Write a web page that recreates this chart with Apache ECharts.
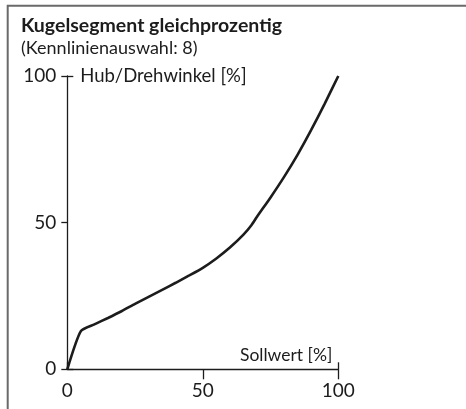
<!DOCTYPE html>
<html>
<head>
<meta charset="utf-8">
<script src="https://cdn.jsdelivr.net/npm/echarts@6/dist/echarts.min.js"></script>
<style>
  html, body { margin: 0; padding: 0; background: #fff; }
  #chart { width: 466px; height: 409px; }
</style>
</head>
<body>
<div id="chart"></div>
<script>
// Sollwert (setpoint) in % and resulting Hub/Drehwinkel (travel/angle) in %
const sollwert = [0, 5, 10, 15, 20, 25, 30, 35, 40, 45, 50, 55, 60, 65, 68, 70, 75, 80, 85, 90, 95, 100];
const hub      = [0, 13, 15.3, 17.5, 19.8, 22.3, 24.7, 27.1, 29.5, 32.0, 34.6, 37.8, 41.5, 45.9, 49.2, 52.0, 58.6, 65.6, 73.2, 81.6, 90.6, 100];

const xTickValues = [50, 100];
const titleText = 'Kugelsegment gleichprozentig';
const subtitleText = '(Kennlinienauswahl: 8)';
const xName = 'Sollwert [%]';
const yName = 'Hub/Drehwinkel [%]';

const FONT = 'Lato';
const INK = '#1c1c1c';
const AXIS = { lineStyle: { color: INK, width: 1.3 } };

const chart = echarts.init(document.getElementById('chart'), null, { renderer: 'canvas' });

chart.setOption({
  animation: false,
  backgroundColor: '#fff',
  textStyle: { fontFamily: FONT },
  title: {
    text: titleText,
    subtext: subtitleText,
    left: 16,
    top: 11,
    itemGap: 3,
    textStyle: { fontFamily: FONT, fontSize: 19.5, fontWeight: 'bold', color: INK },
    subtextStyle: { fontFamily: FONT, fontSize: 18, color: INK }
  },
  graphic: [{
    type: 'polyline',
    silent: true,
    shape: { points: [[7.7, 409], [7.7, 5.8], [466, 5.8]] },
    style: { stroke: '#6a6a6a', lineWidth: 2, fill: null }
  }],
  grid: { left: 67.3, right: 127.7, top: 76, bottom: 39.7 },
  xAxis: [{
    type: 'value', min: 0, max: 100, interval: 50,
    axisLine: AXIS,
    axisTick: { show: true, length: 10, lineStyle: { color: INK, width: 1.3 }, customValues: xTickValues },
    axisLabel: { fontSize: 19, color: INK, margin: 12, fontFamily: FONT },
    splitLine: { show: false },
    name: xName, nameLocation: 'end', nameGap: 0,
    nameTextStyle: { fontSize: 17.5, color: INK, fontFamily: FONT, align: 'right', verticalAlign: 'bottom', padding: [0, 6, 5, 0] }
  }, {
    type: 'value', min: 0, max: 100, interval: 100, position: 'bottom',
    axisLine: { show: false },
    axisTick: { show: true, inside: true, length: 7, lineStyle: { color: INK, width: 1.3 } },
    axisLabel: { show: false },
    splitLine: { show: false }
  }],
  yAxis: [{
    type: 'value', min: 0, max: 100, interval: 50,
    axisLine: AXIS,
    axisTick: { show: true, length: 6, lineStyle: { color: INK, width: 1.3 } },
    axisLabel: { fontSize: 19, color: INK, margin: 11, fontFamily: FONT },
    splitLine: { show: false },
    name: yName, nameLocation: 'end', nameGap: 0,
    nameTextStyle: { fontSize: 18.5, color: INK, fontFamily: FONT, align: 'left', verticalAlign: 'middle', padding: [0, 0, 0, 13] }
  }, {
    type: 'value', min: 0, max: 100, interval: 100, position: 'left',
    axisLine: { show: false },
    axisTick: { show: true, inside: true, length: 6, lineStyle: { color: INK, width: 1.3 } },
    axisLabel: { show: false },
    splitLine: { show: false }
  }],
  series: [{
    type: 'line',
    data: sollwert.map((x, i) => [x, hub[i]]),
    showSymbol: false,
    smooth: 0.2,
    lineStyle: { color: INK, width: 2.6 },
    clip: false
  }]
});
</script>
</body>
</html>
